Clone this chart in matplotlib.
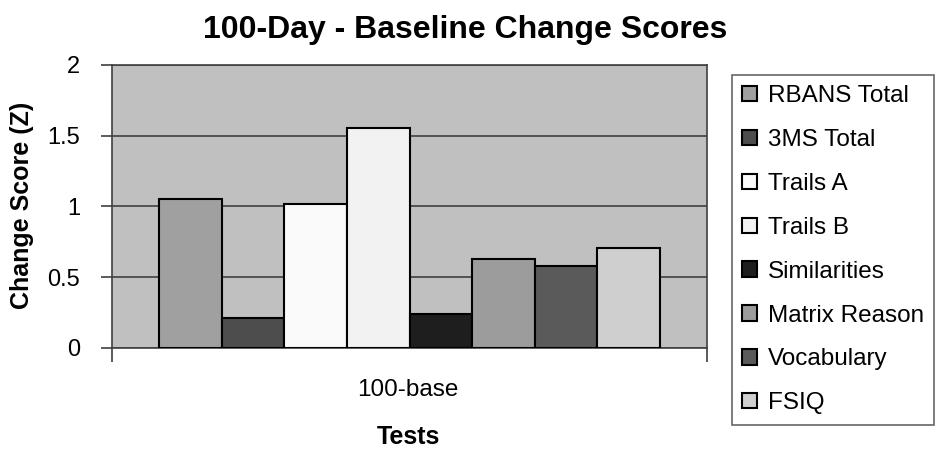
import matplotlib.pyplot as plt
import numpy as np

plt.rcParams['font.family'] = ['Liberation Sans', 'DejaVu Sans']

tests = ['RBANS Total', '3MS Total', 'Trails A', 'Trails B', 'Similarities',
         'Matrix Reason', 'Vocabulary', 'FSIQ']
scores = [1.05, 0.21, 1.02, 1.555, 0.24, 0.63, 0.58, 0.705]
colors = ['#a0a0a0', '#4d4d4d', '#fafafa', '#f2f2f2', '#1e1e1e',
          '#9c9c9c', '#5a5a5a', '#cfcfcf']
category = ['100-base']

W, H = 940, 450
fig = plt.figure(figsize=(W / 100, H / 100), dpi=100)
ax = fig.add_axes([112/W, 1 - 348/H, 595/W, 283/H])
ax.set_facecolor('#c0c0c0')

n = len(tests)
w = 0.842 / n
for i in range(n):
    off = (i - (n - 1) / 2) * w
    ax.bar(np.arange(len(category)) + off, [scores[i]], width=w, color=colors[i],
           edgecolor='black', linewidth=1.5, label=tests[i], zorder=3)

ax.set_xlim(-0.5, 0.5)
ax.set_ylim(0, 2)
ax.set_yticks([0, 0.5, 1, 1.5, 2])
ax.set_yticklabels(['0', '0.5', '1', '1.5', '2'])
ax.yaxis.grid(True, color='#404040', linewidth=1.2, zorder=1)
ax.set_axisbelow(True)
ax.set_xticks([-0.5, 0.5])
ax.set_xticklabels(['', ''])
ax.tick_params(axis='x', length=10, color='#404040', width=1.2)
ax.tick_params(axis='y', length=8, color='#404040', width=1.2, labelsize=17, pad=15)
for s in ax.spines.values():
    s.set_color('#404040')
    s.set_linewidth(1.2)

fig.text(408/W, 1 - 390/H, category[0], ha='center', va='center', fontsize=17.5)
fig.text(465.5/W, 1 - 30/H, '100-Day - Baseline Change Scores', ha='center',
         va='center', fontsize=23, fontweight='bold')
fig.text(22/W, 1 - 205/H, 'Change Score (Z)', ha='center', va='center',
         rotation=90, fontsize=18, fontweight='bold')
fig.text(408/W, 1 - 437/H, 'Tests', ha='center', va='center', fontsize=18,
         fontweight='bold')

leg = fig.legend(loc='upper left', bbox_to_anchor=(732/W, 1 - 75/H), fontsize=17.5,
                 frameon=True, fancybox=False, edgecolor='#404040',
                 handlelength=0.6, handleheight=0.6, handletextpad=0.45,
                 labelspacing=0.9, borderpad=0.42, borderaxespad=0)
leg.get_frame().set_linewidth(1.2)

fig.savefig('out.png', dpi=100)
